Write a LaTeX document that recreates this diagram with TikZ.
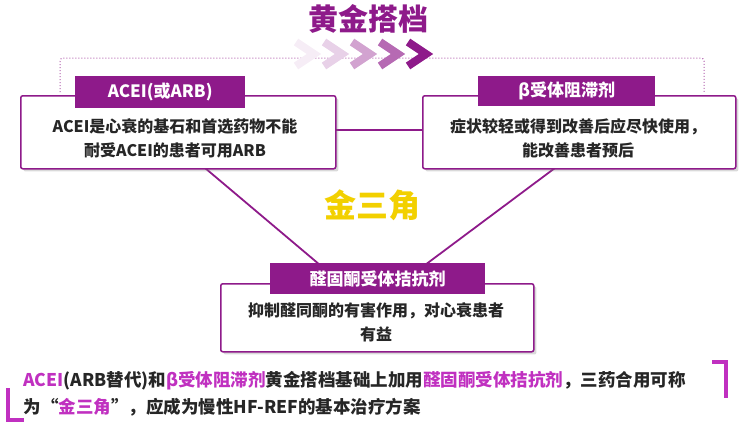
\documentclass[tikz,border=0pt]{standalone}
\usepackage{fontspec}
\setmainfont{Noto Sans CJK SC}
\usetikzlibrary{shadows}
\definecolor{pur}{HTML}{8E1A8A}
\definecolor{mag}{HTML}{C030C0}
\definecolor{gold}{HTML}{F2D000}
\begin{document}
\begin{tikzpicture}[x=1pt,y=-1pt,
  box/.style={draw=pur,line width=1.5pt,fill=white,rounded corners=2pt,drop shadow={opacity=0.3}},
  tab/.style={fill=pur,text=white,font=\bfseries\fontsize{17}{20}\selectfont,inner sep=0pt},
  body/.style={font=\bfseries\fontsize{16}{24}\selectfont,align=center,text=black!85},
  chev/.style={line width=8pt}]
\useasboundingbox (0,0) rectangle (740,437);
\node[font=\bfseries\fontsize{30}{32}\selectfont,text=pur] (title) at (368,19) {黄金搭档};
\draw[pur!70,dotted,line width=1pt,rounded corners=3pt] (60,92) -- (60,58) -- (704,58) -- (704,92);
\foreach \i/\c in {0/8,1/20,2/40,3/65,4/100}{
  \draw[chev,pur!\c] (296+28*\i,42) -- (314+28*\i,54) -- (296+28*\i,66);}
\coordinate (lt) at (205,168); \coordinate (rt) at (555,168);
\coordinate (lb) at (320,265); \coordinate (rb) at (425,265);
\draw[pur,line width=1.8pt] (lt) -- (lb) (rt) -- (rb);
\draw[pur,line width=1.8pt] (335,130) -- (422,130);
\node[box,minimum width=315,minimum height=73,anchor=north west] (L) at (20,95) {};
\node[body] (Lt) at (175,138) {ACEI是心衰的基石和首选药物不能\\耐受ACEI的患者可用ARB};
\node[tab,minimum width=170,minimum height=32,anchor=north west] (Ltab) at (75,76) {ACEI(或ARB)};
\node[box,minimum width=313,minimum height=73,anchor=north west] (R) at (422,95) {};
\node[body] (Rt) at (578,138) {症状较轻或得到改善后应尽快使用，\\能改善患者预后};
\node[tab,minimum width=177,minimum height=30,anchor=north west] (Rtab) at (478,76) {β受体阻滞剂};
\node[font=\bfseries\fontsize{32}{34}\selectfont,text=gold] (gold) at (372,205) {金三角};
\node[box,minimum width=313,minimum height=68,anchor=north west] (B) at (220,283) {};
\node[body] (Bt) at (376,322) {抑制醛同酮的有害作用，对心衰患者\\有益};
\node[tab,minimum width=215,minimum height=31,anchor=north west] (Btab) at (270,263) {醛固酮受体拮抗剂};
\node[font=\bfseries\fontsize{17.5}{27}\selectfont,align=left,anchor=north west,text=black!85] (note) at (20,368)
 {\textcolor{mag}{ACEI}(ARB替代)和\textcolor{mag}{β受体阻滞剂}黄金搭档基础上加用\textcolor{mag}{醛固酮受体拮抗剂}，三药合用可称\\为“\textcolor{mag}{金三角}”，应成为慢性HF-REF的基本治疗方案};
\draw[mag,line width=4pt] (8,388) -- (8,420) -- (24,420);
\draw[mag,line width=4pt] (712,362) -- (726,362) -- (726,398);
\end{tikzpicture}
\end{document}
